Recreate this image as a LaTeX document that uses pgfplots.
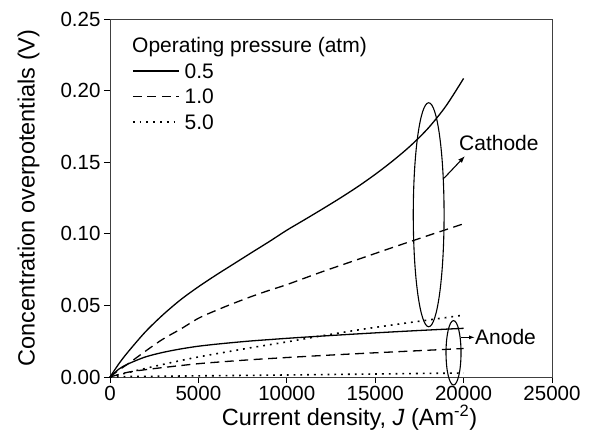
\documentclass[border=0pt]{standalone}
\usepackage{pgfplots}
\pgfplotsset{compat=1.18}
\usepackage{fontspec}
\setmainfont{Liberation Sans}
\usetikzlibrary{arrows.meta}

\begin{document}
\begin{tikzpicture}
\useasboundingbox (-110pt,-70pt) rectangle (488pt,377pt);
\begin{axis}[
  at={(0pt,0pt)}, anchor=south west,
  scale only axis, width=442pt, height=358pt,
  xmin=0, xmax=25000, ymin=0, ymax=0.25,
  xtick={0,5000,10000,15000,20000,25000},
  ytick={0,0.05,0.10,0.15,0.20,0.25},
  scaled ticks=false,
  xticklabel style={/pgf/number format/1000 sep={}},
  yticklabel style={/pgf/number format/.cd,fixed,fixed zerofill,precision=2},
  /pgf/number format/assume math mode=true,
  tick align=outside, xtick pos=bottom, ytick pos=left,
  major tick length=6pt,
  tick style={black, line width=0.8pt},
  axis line style={black!75, line width=0.9pt},
  ticklabel style={font=\fontsize{20.5}{24}\selectfont},
  label style={font=\fontsize{23.5}{27}\selectfont},
  xlabel={Current density, \textit{J} (Am\textsuperscript{-2})},
  ylabel={Concentration overpotentials (V)},
  xlabel style={at={(axis description cs:0.542,-0.1145)}, anchor=center},
  ylabel style={at={(axis description cs:-0.1844,0.5)}, anchor=center},
  clip=false,
  legend style={at={(axis description cs:0.0498,0.8757)}, anchor=north west,
    draw=none, fill=none, inner sep=0pt, outer sep=0pt,
    font=\fontsize{21}{25}\selectfont, row sep=10.5pt,
    nodes={inner sep=0pt, text height=15pt, text depth=0pt},
    /tikz/every odd column/.append style={column sep=5pt}},
  legend cell align=left,
  legend image code/.code={\draw[#1] (0pt,0pt) -- (46pt,0pt);},
]
% Cathode 0.5 atm
\addplot[black, line width=1.3pt, smooth] coordinates {
(0,0) (500,0.0092) (1000,0.0172) (2000,0.0315) (3000,0.0435) (4000,0.054)
(5000,0.063) (6000,0.0712) (7000,0.079) (8000,0.0868) (9000,0.0945)
(10000,0.1025) (11000,0.1098) (12000,0.1172) (13000,0.1248) (14000,0.1328)
(15000,0.1415) (16000,0.151) (17000,0.1615) (18000,0.1738) (19000,0.1892) (20000,0.2085)};
\addlegendentry{0.5}
% Cathode 1.0 atm
\addplot[black, line width=1.3pt, dash pattern=on 9pt off 5.5pt, smooth] coordinates {
(0,0) (500,0.0048) (1000,0.009) (2000,0.018) (3000,0.0265) (4000,0.0335)
(5000,0.041) (6000,0.0465) (7000,0.0515) (8000,0.0562) (9000,0.0605)
(10000,0.0645) (12000,0.0735) (14000,0.082) (16000,0.0905) (18000,0.0988) (20000,0.107)};
\addlegendentry{1.0}
% Cathode 5.0 atm
\addplot[black, line width=1.6pt, dash pattern=on 1.8pt off 5pt, smooth] coordinates {
(0,0) (1000,0.003) (2000,0.006) (3000,0.0088) (4000,0.0115) (5000,0.014)
(6000,0.0162) (8000,0.0205) (10000,0.0245) (12000,0.0288) (14000,0.0328)
(16000,0.0364) (18000,0.0398) (20000,0.0432)};
\addlegendentry{5.0}
% Anode 0.5 atm
\addplot[black, line width=1.3pt, smooth, forget plot] coordinates {
(0,0) (500,0.0055) (1000,0.009) (2000,0.014) (3000,0.0172) (4000,0.0196)
(5000,0.0215) (6000,0.0229) (7000,0.0241) (8000,0.0252) (9000,0.0261)
(10000,0.027) (12000,0.0286) (14000,0.0301) (16000,0.0315) (18000,0.0328) (20000,0.034)};
% Anode 1.0 atm
\addplot[black, line width=1.3pt, dash pattern=on 9pt off 5.5pt, smooth, forget plot] coordinates {
(0,0) (1000,0.0033) (2000,0.0051) (3000,0.0066) (4000,0.008) (5000,0.0093)
(6000,0.0103) (8000,0.0121) (10000,0.0136) (12000,0.015) (14000,0.0163)
(16000,0.0175) (18000,0.0187) (20000,0.0199)};
% Anode 5.0 atm
\addplot[black, line width=1.6pt, dash pattern=on 1.8pt off 5pt, forget plot] coordinates {
(0,0) (1000,0.0003) (5000,0.0008) (10000,0.0014) (15000,0.0021) (20000,0.0028)};

% annotations
\draw[line width=1.1pt] (axis cs:18025,0.1133) ellipse [x radius=15.4pt, y radius=112pt];
\draw[line width=1.1pt] (axis cs:19430,0.0169) ellipse [x radius=7.5pt, y radius=32.2pt];
\draw[line width=1.1pt, -{Latex[length=7pt,width=5pt]}] (axis cs:18891,0.1388) -- (axis cs:20079,0.1543);
\draw[line width=1.1pt, -{Latex[length=6pt,width=4pt]}] (axis cs:19853,0.0277) -- (axis cs:20645,0.0277);
\node[anchor=west, inner sep=0pt, font=\fontsize{21}{25}\selectfont] at (axis cs:19740,0.1633) {Cathode};
\node[anchor=west, inner sep=0pt, font=\fontsize{21}{25}\selectfont] at (axis cs:20645,0.0279) {Anode};
\node[anchor=base west, inner sep=0pt, font=\fontsize{21}{25}\selectfont] at (axis description cs:0.0498,0.907) {Operating pressure (atm)};
\end{axis}
\end{tikzpicture}
\end{document}
